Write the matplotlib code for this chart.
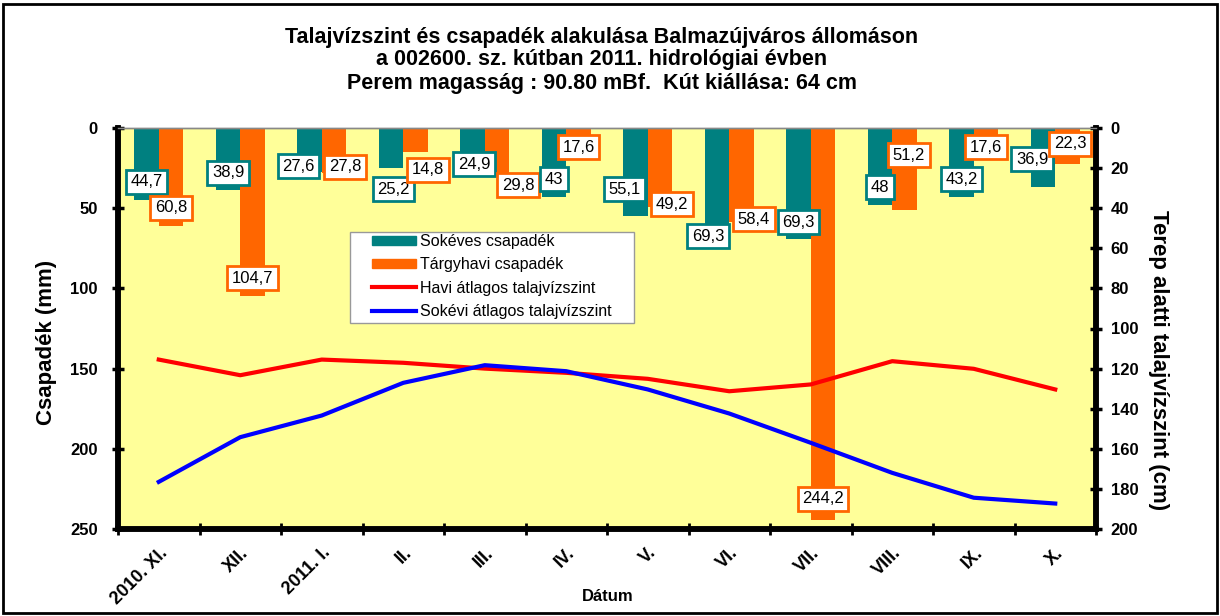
import matplotlib
matplotlib.use("Agg")
import matplotlib.pyplot as plt
from matplotlib.patches import Rectangle, Patch
from matplotlib.lines import Line2D
import numpy as np

plt.rcParams['font.family'] = ['Liberation Sans', 'DejaVu Sans']

# ---- data ----
months = ["2010. XI.", "XII.", "2011. I.", "II.", "III.", "IV.", "V.", "VI.",
          "VII.", "VIII.", "IX.", "X."]
sokeves_csapadek = [44.7, 38.9, 27.6, 25.2, 24.9, 43, 55.1, 69.3, 69.3, 48, 43.2, 36.9]
targyhavi_csapadek = [60.8, 104.7, 27.8, 14.8, 29.8, 17.6, 49.2, 58.4, 244.2, 51.2, 17.6, 22.3]
havi_talajviz = [115.5, 123.3, 115.5, 117.1, 120.0, 122.1, 125.1, 131.3, 127.9, 116.3, 120.1, 130.4]
sokevi_talajviz = [176.5, 154.2, 143.4, 127.1, 118.3, 121.3, 130.4, 142.4, 157.0, 172.0, 184.4, 187.3]

# label offsets (pixels, dx right, dy up) relative to the bar end
teal_off = [(0, 18), (0, 17.5), (-11, 6), (2.5, -21), (1.5, 3.5), (0, 17.5),
            (-11, 27), (-9, 3), (0, 17), (0, 17.5), (0, 18), (-11, 28)]
orange_off = [(0, 18), (0, 17.5), (11, 6), (12.5, -18), (21, -9.5), (0, 9),
              (12, 2.5), (12.5, 2.5), (0, 20.7), (4.5, 55), (0, 9), (2.5, 20)]

TEAL = "#008080"
ORANGE = "#FF6600"
BG = "#FFFF99"

fig = plt.figure(figsize=(12.2, 6.16), dpi=100)
ax = fig.add_axes([118/1220, 1-529/616, (1096-118)/1220, (529-128)/616])
ax.set_facecolor(BG)
ax2 = ax.twinx()

x = np.arange(len(months))
w = 0.30
ax.bar(x - w/2, sokeves_csapadek, width=w, color=TEAL, zorder=2)
ax.bar(x + w/2, targyhavi_csapadek, width=w, color=ORANGE, zorder=2)
ax.set_ylim(250, 0)
ax.set_xlim(-0.5, len(months) - 0.5)

def fmt(v):
    return f"{v:g}".replace('.', ',')

for i in range(len(months)):
    for vals, off, col, sgn in ((sokeves_csapadek, teal_off, TEAL, -1),
                                (targyhavi_csapadek, orange_off, ORANGE, 1)):
        ax.annotate(fmt(vals[i]), xy=(x[i] + sgn*w/2, vals[i]),
                    xytext=off[i], textcoords='offset pixels',
                    ha='center', va='center', fontsize=12, color='black',
                    bbox=dict(boxstyle='square,pad=0.27', fc='white', ec=col, lw=2),
                    zorder=5, annotation_clip=False)

ax2.plot(x, havi_talajviz, color='#FF0000', lw=3, zorder=3)
ax2.plot(x, sokevi_talajviz, color='#0000FF', lw=3, zorder=3)
ax2.set_ylim(200, 0)
ax2.set_yticks(np.arange(0, 201, 20))
ax.set_yticks(np.arange(0, 251, 50))

# x ticks
ax.set_xticks(x)
ax.set_xticklabels(months, rotation=45, ha='right', rotation_mode='anchor',
                   fontsize=13, fontweight='bold')
ax.tick_params(axis='x', length=0, pad=11)
ax.set_xticks(np.arange(-0.5, len(months)), minor=True)
ax.tick_params(axis='x', which='minor', direction='inout', length=9, width=2)

for a in (ax, ax2):
    a.tick_params(axis='y', direction='inout', length=9, width=2.5,
                  labelsize=12)
    for lab in a.get_yticklabels():
        lab.set_fontweight('bold')
    for s in ('left', 'right', 'bottom'):
        a.spines[s].set_linewidth(4)
        a.spines[s].set_color('black')
    a.spines['top'].set_color('#888888')
    a.spines['top'].set_linewidth(1)
ax.tick_params(axis='y', pad=10)
ax2.tick_params(axis='y', pad=6)

ax.set_ylabel("Csapadék (mm)", fontsize=16, fontweight='bold')
ax.yaxis.set_label_coords(-0.062, 0.466)
ax2.set_ylabel("Terep alatti talajvízszint (cm)", fontsize=16, fontweight='bold',
               rotation=-90, va='bottom')
ax2.yaxis.set_label_coords(1.053, 0.421)
ax.set_xlabel("Dátum", fontsize=12, fontweight='bold')
ax.xaxis.set_label_coords(0.501, -0.150)

# legend frame + legend
ax2.add_patch(Rectangle((0.2372, 0.5137), 0.2904, 0.2269, transform=ax2.transAxes,
                        fc='white', ec='#999999', lw=1, zorder=9))
handles = [Patch(color=TEAL), Patch(color=ORANGE),
           Line2D([], [], color='#FF0000', lw=3),
           Line2D([], [], color='#0000FF', lw=3)]
labels = ["Sokéves csapadék", "Tárgyhavi csapadék", "Havi átlagos talajvízszint",
          "Sokévi átlagos talajvízszint"]
leg = ax2.legend(handles, labels, loc='upper left',
                 bbox_to_anchor=((372-118)/978, (529-234)/401),
                 borderaxespad=0, fontsize=11.5, frameon=False,
                 handlelength=2.75, handleheight=0.55, handletextpad=0.25,
                 labelspacing=0.52, borderpad=0)
leg.set_zorder(10)

tkw = dict(ha='center', va='center', fontsize=15.5, fontweight='bold')
fig.text(602/1220, 1-37/616, "Talajvízszint és csapadék alakulása Balmazújváros állomáson", **tkw)
fig.text(602/1220, 1-60/616, "a 002600. sz. kútban 2011. hidrológiai évben", **tkw)
fig.text(602/1220, 1-83/616, "Perem magasság : 90.80 mBf.  Kút kiállása: 64 cm", **tkw)

fig.patches.append(Rectangle((3/1220, 3/616), 1-6/1220, 1-7/616,
                             transform=fig.transFigure, fill=False,
                             ec='black', lw=2))

fig.savefig("out.png", dpi=100)
